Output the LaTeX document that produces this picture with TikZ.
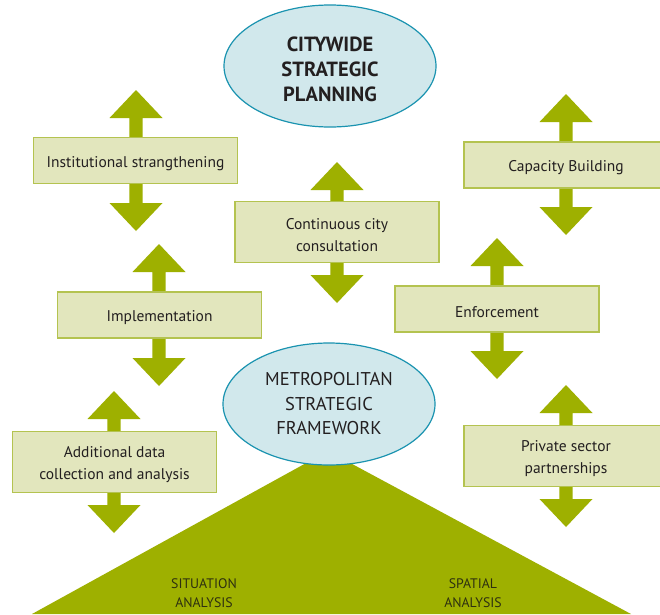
\documentclass[tikz,border=0pt]{standalone}
\usepackage{fontspec}
\setmainfont{PT Sans}
\usetikzlibrary{shapes.geometric}
\definecolor{arrowgreen}{HTML}{9EB000}
\definecolor{boxfill}{HTML}{E2E6BD}
\definecolor{boxline}{HTML}{B4C350}
\definecolor{ellfill}{HTML}{D1E8EC}
\definecolor{ellline}{HTML}{1A93B0}
\definecolor{txt}{HTML}{231F20}
\definecolor{lbltxt}{HTML}{2E3010}
\newcommand\dblarr[3]{\fill[arrowgreen] (#1,#2) -- ({#1+26.5},{#2+28}) -- ({#1+6.7},{#2+28}) -- ({#1+6.7},{#3-28}) -- ({#1+26.5},{#3-28}) -- (#1,#3) -- ({#1-26.5},{#3-28}) -- ({#1-6.7},{#3-28}) -- ({#1-6.7},{#2+28}) -- ({#1-26.5},{#2+28}) -- cycle;}
\newcommand\boxstrut{\rule{0pt}{17pt}}
\newcommand\topstrut{\rule{0pt}{22pt}}
\begin{document}
\begin{tikzpicture}[x=1pt,y=-1pt,
  stagebox/.style={draw=boxline, line width=1.4pt, fill=boxfill, minimum width=204pt, align=center, inner sep=0pt, text=txt, font=\fontsize{15.5}{22}\selectfont},
  plan/.style={ellipse, draw=ellline, line width=1.2pt, fill=ellfill, minimum width=212pt, minimum height=122pt, inner sep=0pt, align=center, text=txt},
  lbl/.style={align=center, text=lbltxt, font=\fontsize{13.8}{19}\selectfont}]
\useasboundingbox (0,0) rectangle (660,614);
\clip (0,0) rectangle (660,614);
\fill[white] (0,0) rectangle (660,614);
% base triangle
\fill[arrowgreen] (32,614) -- (328,451) -- (631,614) -- cycle;
% double arrows
\dblarr{136}{90}{231}
\dblarr{337}{162}{303}
\dblarr{566}{94}{235}
\dblarr{159}{244}{386}
\dblarr{497}{238}{379}
\dblarr{114}{391}{533}
\dblarr{566}{385}{527}
% boxes
\node[stagebox, minimum height=46pt] (inst) at (135.5,160.5) {\boxstrut Institutional strangthening};
\node[stagebox, minimum height=61pt] (cons) at (337,232) {\boxstrut Continuous city\\consultation};
\node[stagebox, minimum height=46pt] (cap) at (566,165) {\boxstrut Capacity Building};
\node[stagebox, minimum height=46pt] (impl) at (159.5,315) {\boxstrut Implementation};
\node[stagebox, minimum height=46pt] (enf) at (497,309) {\boxstrut Enforcement};
\node[stagebox, minimum height=61pt] (add) at (114.5,462) {\boxstrut Additional data\\collection and analysis};
\node[stagebox, minimum height=61pt] (priv) at (566,456) {\boxstrut Private sector\\partnerships};
% ellipses
\node[plan, font=\fontsize{20.5}{25}\selectfont\bfseries] (city) at (330,66) {\topstrut CITYWIDE\\STRATEGIC\\PLANNING};
\node[plan, font=\fontsize{18.5}{24.5}\selectfont] (metro) at (329,404) {METROPOLITAN\\STRATEGIC\\FRAMEWORK};
% labels
\node[lbl] (sit) at (204,593) {SITUATION\\ANALYSIS};
\node[lbl] (spa) at (473,593) {SPATIAL\\ANALYSIS};
\end{tikzpicture}
\end{document}
